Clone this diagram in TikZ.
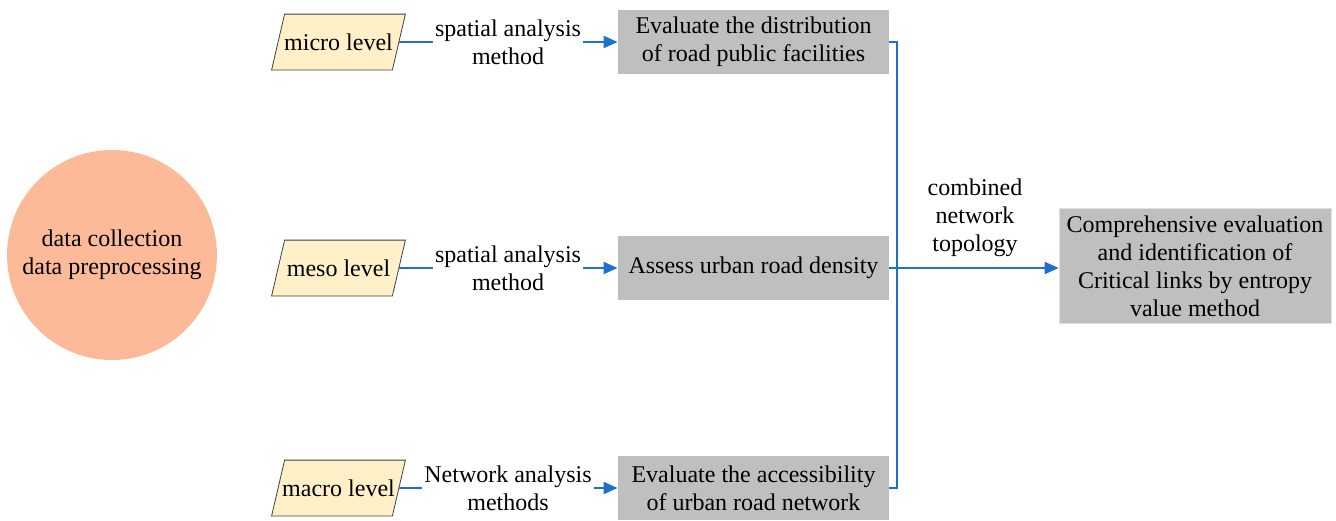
\documentclass[tikz,border=0pt]{standalone}
\usepackage{fontspec}
\setmainfont{Liberation Serif}
\newfontfamily\diagfont{Liberation Serif}
\usepackage{tikz}
\usetikzlibrary{
	arrows.meta,
	backgrounds,
	calc,
	positioning,
}
\definecolor{flowblue}{RGB}{31,112,204}
\definecolor{boxgray}{RGB}{191,191,191}
\definecolor{levelfill}{RGB}{255,240,200}
\definecolor{datafill}{RGB}{253,186,152}
\tikzset{level node/.style={
	minimum width=60pt,
	minimum height=27.5pt,
	inner sep=0pt,
	font=\diagfont\fontsize{12}{14}\selectfont,
},
level shape/.style={
	draw=black!75,
	fill=levelfill,
	line join=miter,
},
step node/.style={
	fill=boxgray,
	minimum width=135.5pt,
	minimum height=32pt,
	inner sep=0pt,
	align=center,
	font=\diagfont\fontsize{12}{14}\selectfont,
},
label node/.style={
	inner sep=1pt,
	align=center,
	font=\diagfont\fontsize{12}{14}\selectfont,
},
flow/.style={
	draw=flowblue,
	line width=1pt,
},
flow arrow/.style={
	flow,
	-{Triangle[length=7pt,width=6pt]},
}}

\begin{document}
\begin{tikzpicture}[x=0.5pt,y=-0.5pt]
\useasboundingbox (0,0) rectangle (1336,520);

\node(data)[circle, fill=datafill, minimum size=105pt, inner sep=0pt, align=center, font=\diagfont\fontsize{12}{14}\selectfont] at (112,255) {data collection\\data preprocessing};

\node(micro)[level node] at (338.5,42) {micro level};
\node(meso)[level node] at (338.5,268) {meso level};
\node(macro)[level node] at (338.5,488) {macro level};

\begin{scope}[on background layer]
\foreach \n in {micro,meso,macro}
	\draw[level shape] ($(\n.south west)+(-6.5,0)$) -- ($(\n.south east)+(-6.5,0)$)
		-- ($(\n.north east)+(6.5,0)$) -- ($(\n.north west)+(6.5,0)$) -- cycle;
\end{scope}

\node(lbl1)[label node] at (508,42) {spatial analysis\\method};
\node(lbl2)[label node] at (508,268) {spatial analysis\\method};
\node(lbl3)[label node] at (508,488) {Network analysis\\methods};

\node(box1)[step node] at (753.5,42) {Evaluate the distribution\\of road public facilities};
\node(box2)[step node] at (753.5,268) {Assess urban road density};
\node(box3)[step node] at (753.5,488) {Evaluate the accessibility\\of urban road network};

\node(result)[step node, draw=black!12, minimum width=136pt, minimum height=57.5pt] at (1195,266) {Comprehensive evaluation\\and identification of\\Critical links by entropy\\value method};

\node(topo)[label node] at (975,218) {combined\\network\\topology};

\coordinate(join) at (897,268);

\foreach \i in {1,...,3}
	\draw[flow] (\ifcase\i\or micro\or meso\or macro\fi) -- (lbl\i);
\foreach \i in {1,...,3}
	\draw[flow arrow] (lbl\i) -- (box\i);

\draw[flow] (box1.east) -| (join) |- (box3.east);
\draw[flow] (box2.east) -- (join);
\draw[flow arrow] (join) -- (join -| result.west);

\end{tikzpicture}
\end{document}
